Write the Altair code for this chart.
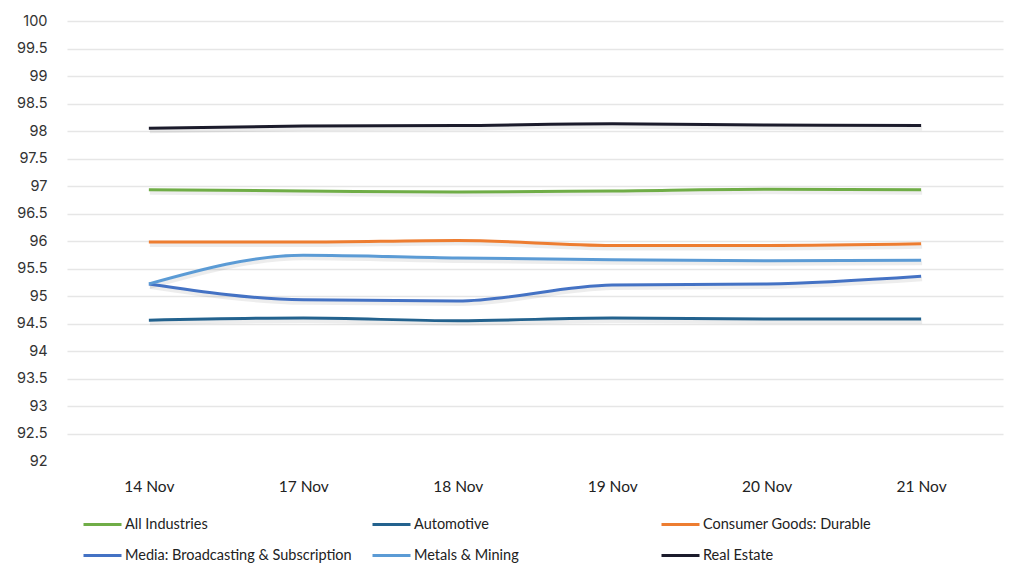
import altair as alt
import pandas as pd

dates = ["14 Nov", "17 Nov", "18 Nov", "19 Nov", "20 Nov", "21 Nov"]
series_names = ["All Industries", "Automotive", "Consumer Goods: Durable",
                "Media: Broadcasting & Subscription", "Metals & Mining", "Real Estate"]
all_industries = [96.93, 96.91, 96.89, 96.91, 96.94, 96.93]
automotive = [94.56, 94.60, 94.55, 94.60, 94.58, 94.58]
consumer_goods = [95.98, 95.98, 96.01, 95.92, 95.92, 95.95]
media = [95.22, 94.93, 94.91, 95.20, 95.22, 95.36]
metals = [95.22, 95.74, 95.69, 95.66, 95.64, 95.65]
real_estate = [98.05, 98.09, 98.10, 98.13, 98.11, 98.10]
colors = ["#70AD47", "#23628E", "#ED7D31", "#4472C4", "#5B9BD5", "#1B1B2B"]

values = [all_industries, automotive, consumer_goods, media, metals, real_estate]
rows = []
for name, vals in zip(series_names, values):
    for d, v in zip(dates, vals):
        rows.append({"date": d, "series": name, "value": v})
df = pd.DataFrame(rows)

x = alt.X("date:N", sort=dates, title=None,
          scale=alt.Scale(type="point", padding=0.53),
          axis=alt.Axis(labelAngle=0, domain=False, ticks=False, labelPadding=18,
                        labelFont="Lato", labelFontSize=15.5, labelColor="#222222"))
y = alt.Y("value:Q", title=None,
          scale=alt.Scale(domain=[92, 100], nice=False, zero=False),
          axis=alt.Axis(values=[92 + 0.5 * i for i in range(17)], format="~g",
                        domain=False, ticks=False,
                        labelPadding=20, labelFont="Inter", labelFontSize=14.5,
                        labelColor="#333333", gridColor="#E6E6E6", gridWidth=1.5,
                        gridOpacity={"condition": {"test": "datum.value == 92", "value": 0}, "value": 1}))

shadow = alt.Chart(df).mark_line(interpolate="monotone", strokeWidth=4, color="#000000",
                                  opacity=0.07, yOffset=3, xOffset=1).encode(
    x=x, y=y, detail="series:N")

lines = alt.Chart(df).mark_line(interpolate="monotone", strokeWidth=3).encode(
    x=x, y=y,
    color=alt.Color("series:N", scale=alt.Scale(domain=series_names, range=colors),
                    legend=alt.Legend(title=None, orient="none", legendX=15, legendY=483,
                                      direction="horizontal",
                                      columns=3, gridAlign="all", columnPadding=14,
                                      rowPadding=4, symbolType="stroke",
                                      symbolSize=1444, symbolStrokeWidth=3,
                                      labelFont="Lato", labelFontSize=14.5,
                                      labelColor="#222222", labelOffset=2,
                                      labelLimit=400)))

chart = (shadow + lines).properties(
    width=936, height=440,
    background="white",
    autosize=alt.AutoSizeParams(type="none"),
    padding={"left": 59, "top": 13, "right": 13, "bottom": 112},
).configure_view(strokeWidth=0)

chart.save("out.html", embed_options={"renderer": "svg", "actions": False})
